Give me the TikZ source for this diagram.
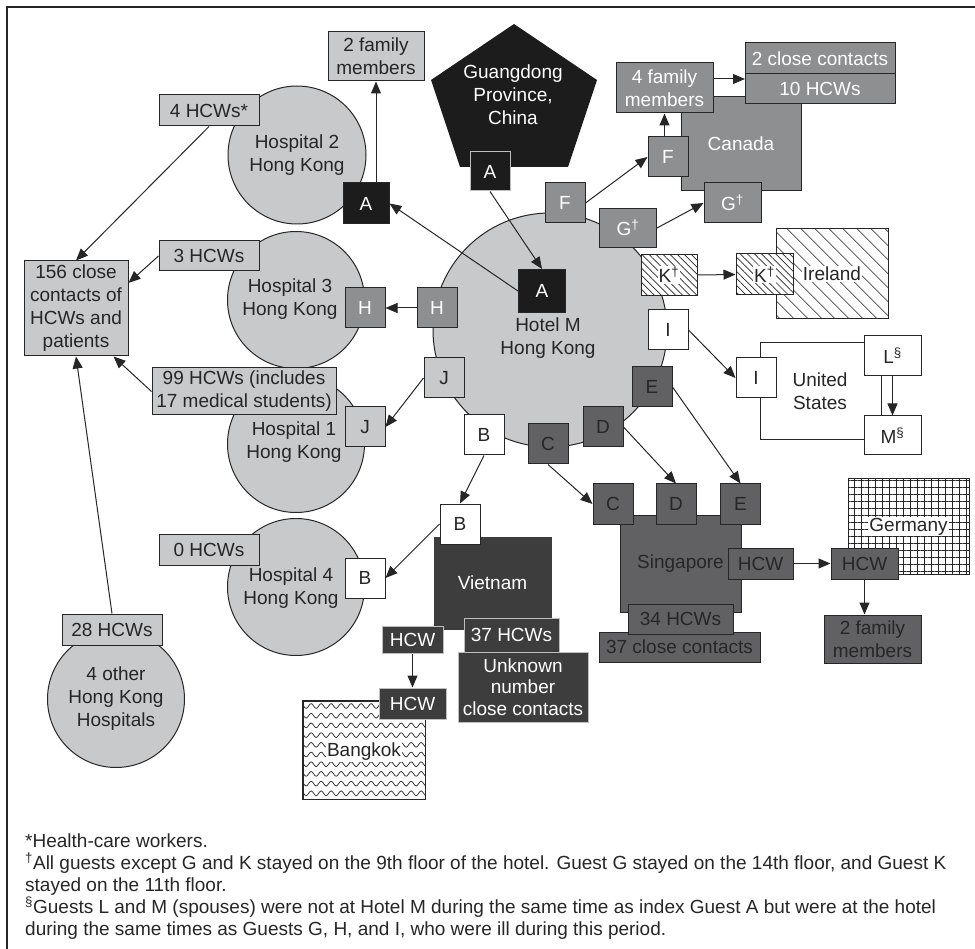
\documentclass[tikz,border=0pt]{standalone}
\usepackage{fontspec}
\setmainfont{Liberation Sans}
\usepackage{graphicx}
\usetikzlibrary{arrows.meta,patterns.meta,decorations.pathmorphing,calc}
\definecolor{lg}{HTML}{C8C9CB}
\definecolor{mg}{HTML}{8E8F91}
\definecolor{dg}{HTML}{616163}
\definecolor{vg}{HTML}{3D3D3D}
\definecolor{bk}{HTML}{1C1C1C}
\definecolor{ln}{HTML}{262626}
\definecolor{edge}{HTML}{BEBEBE}
\newcommand{\mydag}{\textsuperscript{\textdagger}}
\newcommand{\mysec}{\textsuperscript{\textsection}}
\setlength{\fboxsep}{1pt}
\begin{document}
\begin{tikzpicture}[x=1pt,y=-1pt,
 every node/.style={font=\fontsize{19}{23}\selectfont, inner sep=0pt, align=center, text=ln},
 bx/.style={draw=ln, line width=1pt, rectangle},
 sq/.style={bx, minimum width=40pt, minimum height=40pt},
 lgf/.style={fill=lg},
 mgf/.style={fill=mg, text=white},
 dgf/.style={fill=dg, text=ln},
 vgf/.style={fill=vg, text=white, draw=edge},
 bkf/.style={fill=bk, text=white},
 hosp/.style={circle, draw=ln, fill=lg, line width=1pt, minimum size=137pt},
 hatchK/.style={preaction={fill=white}, pattern={Lines[angle=-45,distance=5pt,line width=0.7pt]}, pattern color=ln},
 hatchI/.style={preaction={fill=white}, pattern={Lines[angle=-45,distance=10.5pt,line width=0.8pt]}, pattern color=ln},
 gridpat/.style={preaction={fill=white}, pattern={Hatch[distance=7pt,line width=0.6pt]}, pattern color=ln},
 arr/.style={draw=ln, line width=1pt, -{Triangle[length=12pt,width=10pt]}},
 fn/.style={anchor=base west, font=\fontsize{19}{23}\selectfont}
]
\useasboundingbox (0,0) rectangle (975,949);
\draw[line width=1.2pt, ln] (7,949) -- (7,7) -- (975,7);

% ---------- Hospitals ----------
\node[hosp, minimum size=138pt] (hosp2) at (297,155) {Hospital 2\\Hong Kong};
\node[hosp] (hosp3) at (296,300) {};
\node (hosp3t) at (290,299.5) {Hospital 3\\Hong Kong};
\node[hosp] (hosp1) at (296,444) {};
\node (hosp1t) at (294,442.5) {Hospital 1\\Hong Kong};
\node[hosp] (hosp4) at (296,587) {};
\node (hosp4t) at (291,588.5) {Hospital 4\\Hong Kong};
\node[hosp] (hosp5) at (116,699) {4 other\\Hong Kong\\Hospitals};

\node[bx, lgf, minimum width=100pt, minimum height=31pt] (l4) at (209,110.5) {4 HCWs*};
\node[bx, lgf, minimum width=100pt, minimum height=30pt] (l3) at (209,256) {3 HCWs};
\node[bx, lgf, minimum width=184pt, minimum height=47pt] (l99) at (244,391.5) {99 HCWs (includes\\17 medical students)};
\node[bx, lgf, minimum width=100pt, minimum height=31pt] (l0) at (209,549.5) {0 HCWs};
\node[bx, lgf, minimum width=100pt, minimum height=31pt] (l28) at (112,629.5) {28 HCWs};
\node[bx, lgf, minimum width=104pt, minimum height=95pt] (c156) at (76,308.5) {156 close\\contacts of\\HCWs and\\patients};
\node[bx, lgf, minimum width=96pt, minimum height=49pt] (fam2) at (376,56.5) {2 family\\members};

\node[sq, bkf, minimum width=46pt, minimum height=41pt] (h2A) at (366,203.5) {A};
\node[sq, mgf] (h3H) at (365,308) {H};
\node[sq, lgf] (h1J) at (365,427) {J};
\node[sq, fill=white] (h4B) at (365,578) {B};

% ---------- Guangdong ----------
\fill[bk] (514,24) -- (597,80) -- (568,167) -- (460,167) -- (431,80) -- cycle;
\node[text=white] (gtxt) at (513,95) {Guangdong\\Province,\\China};
\node[sq, bkf, draw=edge, minimum height=39pt] (gA) at (490,171.5) {A};

% ---------- Hotel M ----------
\node[hosp, minimum size=234pt] (hotel) at (550,330) {};
\node (hoteltxt) at (548,338) {Hotel M\\Hong Kong};
\node[sq, bkf, minimum width=47pt, minimum height=43pt] (hA) at (542,291) {A};
\node[sq, mgf] (hF) at (565,203) {F};
\node[sq, mgf, minimum width=57pt, minimum height=39pt] (hG) at (628,228) {G\mydag};
\node[sq, hatchK, minimum width=56pt, minimum height=41pt] (hK) at (669,275) {\colorbox{white}{K\mydag}};
\node[sq, fill=white] (hI) at (668,330) {I};
\node[sq, dgf] (hE) at (652,387) {E};
\node[sq, dgf] (hD) at (603,427) {D};
\node[sq, dgf] (hC) at (548,444) {C};
\node[sq, fill=white] (hB) at (484,435) {B};
\node[sq, lgf] (hJ) at (444,378) {J};
\node[sq, mgf] (hH) at (437,308) {H};

% ---------- Canada ----------
\node[bx, fill=mg, text=white, minimum width=120pt, minimum height=94pt] (canada) at (741,144) {Canada};
\node[sq, mgf] (cF) at (668,157) {F};
\node[sq, mgf, minimum width=57pt, minimum height=40pt] (cG) at (732.5,203) {G\mydag};
\node[bx, mgf, minimum width=97pt, minimum height=50pt] (cfam) at (664.5,88) {4 family\\members};
\node[bx, mgf, minimum width=150pt, minimum height=31pt] (cc2) at (820,58.5) {2 close contacts};
\node[bx, mgf, minimum width=150pt, minimum height=30pt] (c10) at (820,89) {10 HCWs};
\coordinate (ccin) at (745,79);

% ---------- Ireland ----------
\node[bx, hatchI, minimum width=112pt, minimum height=90pt] (irl) at (832,274) {\colorbox{white}{Ireland}};
\node[bx, hatchK, minimum width=57pt, minimum height=41pt] (iK) at (764.5,274.5) {\colorbox{white}{K\mydag}};

% ---------- United States ----------
\node[bx, fill=white, minimum width=121pt, minimum height=97pt] (us) at (820.5,391.5) {};
\node (ustxt) at (820,391) {United\\States};
\node[sq, fill=white] (uI) at (756,378) {I};
\node[sq, fill=white, minimum width=57pt] (uL) at (892.5,356) {L\mysec};
\node[sq, fill=white, minimum width=57pt, minimum height=39pt] (uM) at (892.5,435.5) {M\mysec};

% ---------- Singapore ----------
\node[bx, fill=dg, minimum width=121pt, minimum height=97pt] (sing) at (680.5,563.5) {};
\node[anchor=east] (singtxt) at (724,563.5) {Singapore};
\node[sq, dgf] (sC) at (613,504) {C};
\node[sq, dgf] (sD) at (676,504) {D};
\node[sq, dgf] (sE) at (740.5,504) {E};
\node[bx, dgf, minimum width=65pt, minimum height=31pt] (sHCW) at (760.5,563.5) {HCW};
\node[bx, dgf, minimum width=161pt, minimum height=30pt] (s37) at (679.5,647) {37 close contacts};
\node[bx, dgf, minimum width=105pt, minimum height=30pt] (s34) at (680.5,619) {34 HCWs};

% ---------- Germany ----------
\node[bx, gridpat, minimum width=121pt, minimum height=95pt] (ger) at (908.5,526.5) {\colorbox{white}{Germany}};
\node[bx, dgf, minimum width=67pt, minimum height=31pt] (gHCW) at (864.5,563.5) {HCW};
\node[bx, dgf, minimum width=97pt, minimum height=48pt] (gfam) at (872.5,639) {2 family\\members};

% ---------- Vietnam ----------
\node[bx, fill=vg, draw=vg, text=white, minimum width=117pt, minimum height=92pt] (viet) at (492.5,583) {Vietnam};
\node[sq, fill=white] (vB) at (460,524) {B};
\node[bx, vgf, minimum width=95pt, minimum height=34pt] (v37) at (511.5,635) {37 HCWs};
\node[bx, vgf, minimum width=130pt, minimum height=70pt, font=\fontsize{19}{21.5}\selectfont] (vunk) at (523,687) {Unknown\\number\\close contacts};
\node[bx, vgf, minimum width=61pt, minimum height=27pt] (vHCW) at (412.5,640) {HCW};

% ---------- Bangkok ----------
\node[bx, fill=white, minimum width=122pt, minimum height=98pt] (bkk) at (364,750) {};
\begin{scope}
\clip (bkk.south west) rectangle (bkk.north east);
\foreach \yy in {706,715.7,...,800} {
  \draw[ln, line width=0.7pt, decorate, decoration={snake, amplitude=2.4pt, segment length=10pt}] (298,\yy) -- (432,\yy);
}
\end{scope}
\draw[ln, line width=1.2pt] (bkk.south west) rectangle (bkk.north east);
\node (bkktxt) at (364,752) {\colorbox{white}{Bangkok}};
\node[bx, vgf, minimum width=67pt, minimum height=31pt] (bHCW) at (412.5,703.5) {HCW};

% ---------- Arrows ----------
\draw[arr] (fam2.south |- h2A.north) -- (fam2.south);
\draw[arr] (gA.south) -- (hA.north);
\draw[arr] (hA.west) -- (h2A.east);
\draw[arr] (hH.west) -- (h3H.east);
\draw[arr] (hJ.west) -- (h1J.east);
\draw[arr] (hB.south) -- (vB.north);
\draw[arr] (vB.west) -- (h4B.east);
\draw[arr] (vHCW.south) -- (bHCW.north);
\draw[arr] (hC.south) -- (sC.west);
\draw[arr] (hD.east) -- (sD.north);
\draw[arr] (hE.east) -- (sE.north);
\draw[arr] (sHCW.east) -- (gHCW.west);
\draw[arr] (gHCW.south) -- (gHCW.south |- gfam.north);
\draw[arr] (hI.east) -- (uI.west);
\draw[arr] (uL.south) -- (uM.north);
\draw[arr] (hK.east) -- (iK.west);
\draw[arr] (hF.east) -- (cF.west);
\draw[arr] (hG.east) -- (cG.west);
\draw[arr] (cfam.south |- cF.north) -- (cfam.south);
\draw[arr] (cfam.east |- ccin) -- (ccin);
\draw[arr] (l4.south) -- (c156.north);
\draw[arr] (l3.west) -- (c156.26);
\draw[arr] (l99.west) -- (c156.-52);
\draw[arr] (l28.north) -- (c156.south);

% ---------- Footnotes ----------
\node[fn] (fn1) at (25,847) {*Health-care workers.};
\node[fn] (fn2) at (25,869) {\textsuperscript{\textdagger}All guests except G and K stayed on the 9th floor of the hotel. Guest G stayed on the 14th floor, and Guest K};
\node[fn] (fn3) at (25,891) {stayed on the 11th floor.};
\node[fn] (fn4) at (25,913) {\textsuperscript{\textsection}Guests L and M (spouses) were not at Hotel M during the same time as index Guest A but were at the hotel};
\node[fn] (fn5) at (25,935) {during the same times as Guests G, H, and I, who were ill during this period.};
\end{tikzpicture}
\end{document}
